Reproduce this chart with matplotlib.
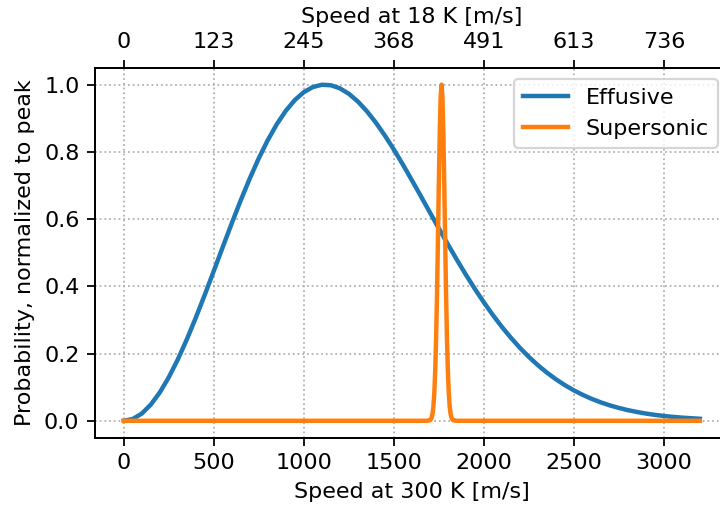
import numpy as np
import matplotlib.pyplot as plt

# effusive beam, speeds at 300 K [m/s] and normalized probability
eff_speed = [0, 50, 100, 150, 200, 250, 300, 350, 400, 450, 500, 550, 600,
             650, 700, 750, 800, 850, 900, 950, 1000, 1050, 1100, 1150, 1200,
             1250, 1300, 1350, 1400, 1450, 1500, 1550, 1600, 1650, 1700,
             1750, 1800, 1850, 1900, 1950, 2000, 2050, 2100, 2150, 2200,
             2250, 2300, 2350, 2400, 2450, 2500, 2550, 2600, 2650, 2700,
             2750, 2800, 2850, 2900, 2950, 3000, 3050, 3100, 3150, 3200]
eff_prob = [0.0, 0.0054, 0.0216, 0.0482, 0.0845, 0.1297, 0.1826, 0.2422,
            0.3069, 0.3754, 0.4461, 0.5176, 0.5882, 0.6566, 0.7213, 0.7813,
            0.8353, 0.8825, 0.9223, 0.9542, 0.9777, 0.9928, 0.9996, 0.9982,
            0.9891, 0.9728, 0.9499, 0.9210, 0.8871, 0.8487, 0.8070, 0.7624,
            0.7158, 0.6683, 0.6201, 0.5723, 0.5251, 0.4791, 0.4348, 0.3924,
            0.3524, 0.3146, 0.2795, 0.2471, 0.2173, 0.1901, 0.1655, 0.1434,
            0.1236, 0.1060, 0.0905, 0.0769, 0.0650, 0.0547, 0.0458, 0.0382,
            0.0317, 0.0262, 0.0215, 0.0176, 0.0143, 0.0116, 0.0094, 0.0076,
            0.0060]

# supersonic beam
sup_speed = [0, 1680, 1700, 1705, 1710, 1715, 1720, 1725, 1730, 1735, 1740,
             1745, 1750, 1755, 1760, 1765, 1770, 1775, 1780, 1785, 1790,
             1795, 1800, 1805, 1810, 1815, 1820, 1825, 1830, 1850, 3200]
sup_prob = [0.0, 0.0, 0.0015, 0.0039, 0.0094, 0.0211, 0.0439, 0.0847, 0.151,
            0.249, 0.381, 0.539, 0.707, 0.857, 0.962, 1.0, 0.962, 0.857,
            0.707, 0.539, 0.381, 0.249, 0.151, 0.0847, 0.0439, 0.0211,
            0.0094, 0.0039, 0.0015, 0.0, 0.0]

bottom_ticks = [0, 500, 1000, 1500, 2000, 2500, 3000]
top_labels = ['0', '123', '245', '368', '491', '613', '736']

plt.rcParams['font.size'] = 10

fig = plt.figure(figsize=(4.5, 3.1875), dpi=160)
ax = fig.add_axes([0.132, 0.142, 0.88, 0.725])

ax.plot(eff_speed, eff_prob, color='#1f77b4', linewidth=2, label='Effusive')
ax.plot(sup_speed, sup_prob, color='#ff7f0e', linewidth=2, label='Supersonic')
ax.set_xticks(bottom_ticks)
ax.set_yticks([0.0, 0.2, 0.4, 0.6, 0.8, 1.0])
ax.set_xlabel('Speed at 300 K [m/s]')
ax.set_ylabel('Probability, normalized to peak')
ax.grid(True, linestyle=':', color='#b0b0b0', linewidth=0.8)
ax.legend(loc='upper right')

ax2 = ax.twiny()
ax2.set_xlim(ax.get_xlim())
ax2.set_xticks(bottom_ticks)
ax2.set_xticklabels(top_labels)
ax2.set_xlabel('Speed at 18 K [m/s]')

fig.savefig('out.png', dpi=160)
